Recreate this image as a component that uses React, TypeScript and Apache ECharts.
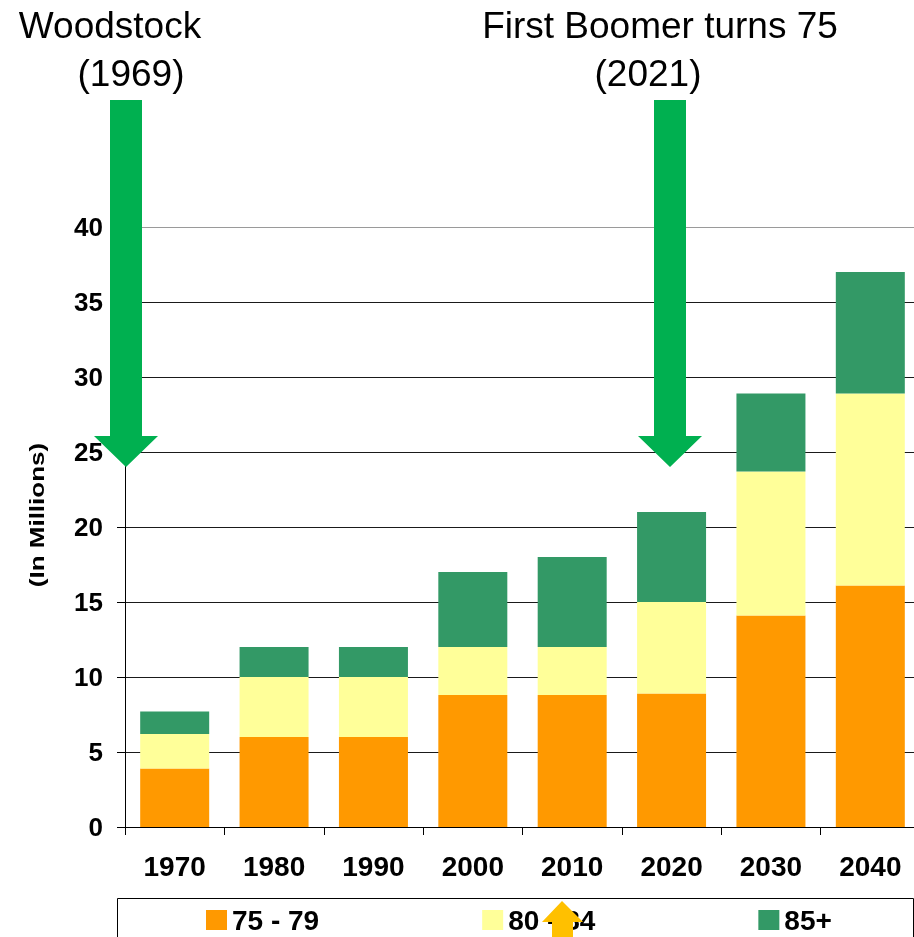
import React, { useEffect, useRef } from "react";
import * as echarts from "echarts";

const categories = ["1970", "1980", "1990", "2000", "2010", "2020", "2030", "2040"];
const age75to79 = [3.9, 6, 6, 8.8, 8.8, 8.9, 14.1, 16.1];
const age80to84 = [2.3, 4, 4, 3.2, 3.2, 6.1, 9.6, 12.8];
const age85plus = [1.5, 2, 2, 5, 6, 6, 5.2, 8.1];
const seriesNames = ["75 - 79", "80 - 84", "85+"];
const yTicks = { min: 0, max: 40, interval: 5 };

const FONT = "'Liberation Sans', Arial, sans-serif";
const GREEN_ARROW = "#00B050";

function downArrow(tipX: number, topY: number) {
  // annotation arrow shape (shaft + head)
  return {
    type: "polygon",
    z: 100,
    shape: {
      points: [
        [tipX - 16, topY],
        [tipX + 16, topY],
        [tipX + 16, 436],
        [tipX + 32, 436],
        [tipX, 467],
        [tipX - 32, 436],
        [tipX - 16, 436],
      ],
    },
    style: { fill: GREEN_ARROW },
  };
}

export default function App() {
  const ref = useRef<HTMLDivElement>(null);
  useEffect(() => {
    if (!ref.current) return;
    const chart = echarts.init(ref.current, undefined, { renderer: "svg" });
    const gridColors = ["#1a1a1a", "#1a1a1a", "#1a1a1a", "#1a1a1a", "#1a1a1a", "#1a1a1a", "#1a1a1a", "#1a1a1a", "#9a9a9a"];
    chart.setOption({
      animation: false,
      textStyle: { fontFamily: FONT },
      grid: { left: 125, top: 227, width: 795, height: 600, containLabel: false, outerBoundsMode: "none" },
      legend: {
        data: seriesNames,
        left: 201,
        top: 900,
        itemWidth: 21,
        itemHeight: 20,
        itemGap: 163,
        icon: "rect",
        textStyle: { fontSize: 28, lineHeight: 30, fontWeight: "bold", color: "#000", fontFamily: FONT },
      },
      xAxis: {
        type: "category",
        data: categories,
        axisLine: { show: true, lineStyle: { color: "#000", width: 1 } },
        axisTick: { show: true, length: 8, lineStyle: { color: "#000" } },
        axisLabel: { fontSize: 28, fontWeight: "bold", color: "#000", margin: 25, fontFamily: FONT },
      },
      yAxis: {
        type: "value",
        min: yTicks.min,
        max: yTicks.max,
        interval: yTicks.interval,
        axisLine: { show: true, lineStyle: { color: "#000", width: 1 } },
        axisTick: { show: true, length: 8, lineStyle: { color: "#000" } },
        axisLabel: { fontSize: 26, fontWeight: "bold", color: "#000", margin: 22, fontFamily: FONT },
        splitLine: { show: true, lineStyle: { color: gridColors, width: 1.2 } },
      },
      series: [
        { name: seriesNames[0], type: "bar", stack: "t", data: age75to79, barWidth: 69, itemStyle: { color: "#FF9900" } },
        { name: seriesNames[1], type: "bar", stack: "t", data: age80to84, barWidth: 69, itemStyle: { color: "#FFFF99" } },
        { name: seriesNames[2], type: "bar", stack: "t", data: age85plus, barWidth: 69, itemStyle: { color: "#339966" } },
      ],
      graphic: [
        {
          type: "text",
          x: 110,
          y: 25,
          z: 100,
          style: { text: "Woodstock", fontSize: 37, fontFamily: FONT, fill: "#000", align: "center", verticalAlign: "middle" },
        },
        {
          type: "text",
          x: 131,
          y: 73,
          z: 100,
          style: { text: "(1969)", fontSize: 37, fontFamily: FONT, fill: "#000", align: "center", verticalAlign: "middle" },
        },
        {
          type: "text",
          x: 660,
          y: 25,
          z: 100,
          style: { text: "First Boomer turns 75", fontSize: 37, fontFamily: FONT, fill: "#000", align: "center", verticalAlign: "middle" },
        },
        {
          type: "text",
          x: 648,
          y: 73,
          z: 100,
          style: { text: "(2021)", fontSize: 37, fontFamily: FONT, fill: "#000", align: "center", verticalAlign: "middle" },
        },
        {
          type: "text",
          x: 37,
          y: 515,
          rotation: Math.PI / 2,
          scaleX: 1.3,
          z: 100,
          style: { text: "(In Millions)", fontSize: 20, fontWeight: "bold", fontFamily: FONT, fill: "#000", align: "center", verticalAlign: "middle" },
        },
        downArrow(126, 100),
        downArrow(670, 100),
        {
          type: "rect",
          z: 50,
          shape: { x: 117.5, y: 898.5, width: 796, height: 60 },
          style: { fill: "none", stroke: "#000", lineWidth: 1 },
        },
        {
          type: "polygon",
          z: 120,
          shape: {
            points: [
              [562, 901],
              [583, 922],
              [573, 922],
              [573, 940],
              [552, 940],
              [552, 922],
              [542, 922],
            ],
          },
          style: { fill: "#FFC000" },
        },
      ],
    });
    return () => chart.dispose();
  }, []);
  return <div ref={ref} style={{ position: "fixed", left: 0, top: 0, width: 914, height: 937 }} />;
}
